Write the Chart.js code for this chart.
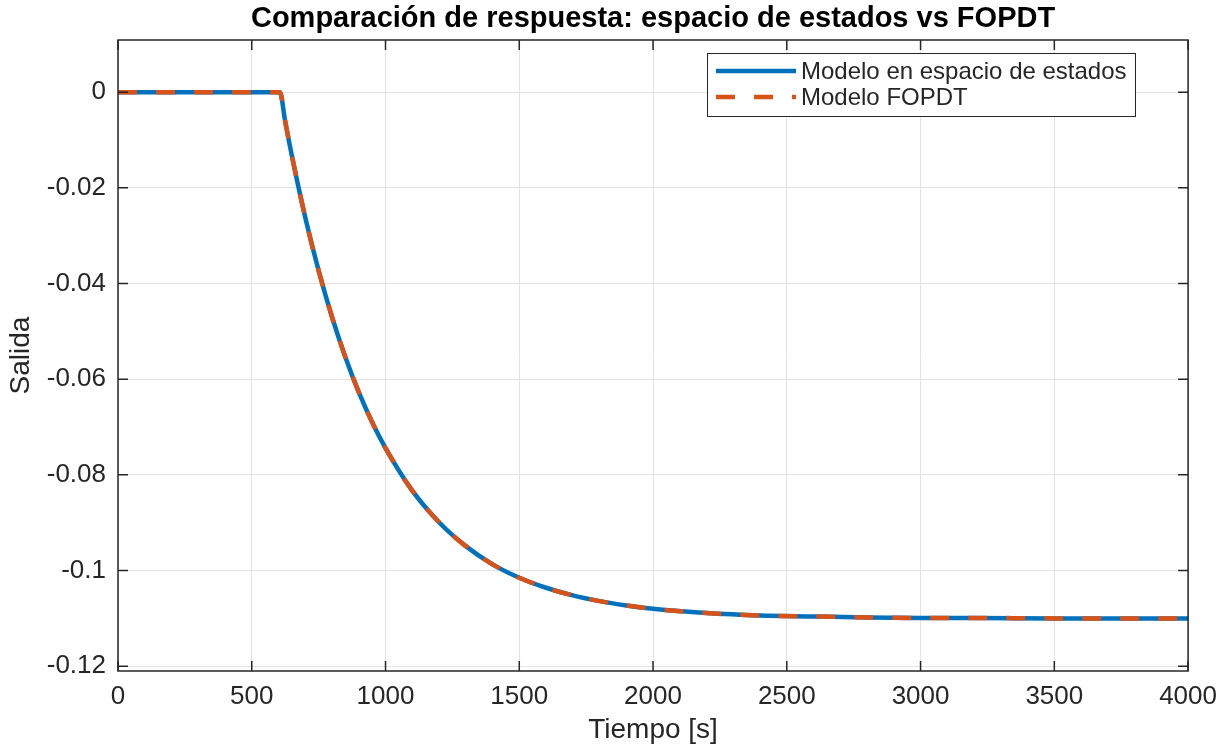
<!DOCTYPE html>
<html>
<head>
<meta charset="utf-8">
<script src="https://cdn.jsdelivr.net/npm/chart.js@4"></script>
<style>
  body { margin: 0; background: #fff; }
  #wrap { width: 1227px; height: 747px; }
</style>
</head>
<body>
<div id="wrap"><canvas id="respChart" width="1227" height="747"></canvas></div>
<script>
// tiempo [s] y salida
const tiempo = [0, 100, 200, 300, 400, 500, 605, 625, 650, 700, 750, 800, 850, 900, 950, 1000,
  1100, 1200, 1300, 1400, 1500, 1600, 1700, 1800, 1900, 2000, 2200, 2400, 2600, 2800, 3000,
  3200, 3500, 4000];
const salidaSS = [0, 0, 0, 0, 0, 0, 0, -0.0061, -0.0133, -0.0262, -0.0373, -0.0470, -0.0554,
  -0.0627, -0.0690, -0.0744, -0.0833, -0.0899, -0.0949, -0.0987, -0.1015, -0.1036, -0.1052,
  -0.1064, -0.1073, -0.1080, -0.1089, -0.1094, -0.1096, -0.1098, -0.1099, -0.1099, -0.1100, -0.1100];
const salidaFOPDT = [0, 0, 0, 0, 0, 0, 0, -0.0061, -0.0133, -0.0262, -0.0373, -0.0470, -0.0554,
  -0.0627, -0.0690, -0.0744, -0.0833, -0.0899, -0.0949, -0.0987, -0.1015, -0.1036, -0.1052,
  -0.1064, -0.1073, -0.1080, -0.1089, -0.1094, -0.1096, -0.1098, -0.1099, -0.1099, -0.1100, -0.1100];

const xTicks = [0, 500, 1000, 1500, 2000, 2500, 3000, 3500, 4000];
const yTicks = [0, -0.02, -0.04, -0.06, -0.08, -0.1, -0.12];
const yTickLabels = ['0', '-0.02', '-0.04', '-0.06', '-0.08', '-0.1', '-0.12'];

const titulo = 'Comparación de respuesta: espacio de estados vs FOPDT';
const FONT = "'Liberation Sans', Arial, sans-serif";
const AX = '#262626';

function pts(ys) {
  return tiempo.map((t, i) => ({ x: t, y: ys[i] }));
}

// titulo, leyenda y marcas interiores al estilo MATLAB
const matlabBits = {
  id: 'matlabBits',
  afterDraw(chart) {
    const ctx = chart.ctx;
    const a = chart.chartArea;
    const xs = chart.scales.x, ys = chart.scales.y;
    ctx.save();
    // caja de ejes
    ctx.strokeStyle = AX;
    ctx.lineWidth = 1.5;
    ctx.strokeRect(a.left, a.top, a.right - a.left, a.bottom - a.top);
    // marcas hacia dentro
    ctx.beginPath();
    xTicks.forEach(v => {
      const px = xs.getPixelForValue(v);
      ctx.moveTo(px, a.bottom); ctx.lineTo(px, a.bottom - 10);
      ctx.moveTo(px, a.top); ctx.lineTo(px, a.top + 10);
    });
    yTicks.forEach(v => {
      const py = ys.getPixelForValue(v);
      ctx.moveTo(a.left, py); ctx.lineTo(a.left + 10, py);
      ctx.moveTo(a.right, py); ctx.lineTo(a.right - 10, py);
    });
    ctx.stroke();

    // titulo
    ctx.fillStyle = '#000';
    ctx.font = 'bold 29px ' + FONT;
    ctx.textAlign = 'center';
    ctx.textBaseline = 'middle';
    ctx.fillText(titulo, (a.left + a.right) / 2, 19);

    // leyenda
    const lx = 707, ly = 53, lw = 428, lh = 63;
    ctx.fillStyle = '#fff';
    ctx.fillRect(lx, ly, lw, lh);
    ctx.strokeStyle = AX;
    ctx.lineWidth = 1;
    ctx.strokeRect(lx + 0.5, ly + 0.5, lw, lh);
    ctx.font = '24px ' + FONT;
    ctx.textAlign = 'left';
    const items = [chart.data.datasets[0], chart.data.datasets[1]];
    items.forEach((ds, i) => {
      const cy = ly + 18 + i * 26;
      ctx.strokeStyle = ds.borderColor;
      ctx.lineWidth = 4.5;
      ctx.setLineDash(ds.borderDash || []);
      ctx.beginPath();
      ctx.moveTo(716, cy); ctx.lineTo(796, cy);
      ctx.stroke();
      ctx.setLineDash([]);
      ctx.fillStyle = AX;
      ctx.fillText(ds.label, 801, cy + 1);
    });
    ctx.restore();
  }
};

new Chart(document.getElementById('respChart').getContext('2d'), {
  type: 'line',
  data: {
    datasets: [{
      label: 'Modelo en espacio de estados',
      data: pts(salidaSS),
      borderColor: '#0072BD',
      borderWidth: 4.5,
      pointRadius: 0,
      cubicInterpolationMode: 'monotone',
      order: 2
    }, {
      label: 'Modelo FOPDT',
      data: pts(salidaFOPDT),
      borderColor: '#D95319',
      borderWidth: 4.5,
      borderDash: [19, 19],
      pointRadius: 0,
      cubicInterpolationMode: 'monotone',
      order: 1
    }]
  },
  plugins: [matlabBits],
  options: {
    responsive: false,
    animation: false,
    layout: { padding: { top: 40, right: 38, left: 0, bottom: 0 } },
    scales: {
      x: {
        type: 'linear',
        min: 0,
        max: 4000,
        afterBuildTicks: s => { s.ticks = xTicks.map(v => ({ value: v })); },
        afterFit: s => { s.height = 76; },
        grid: { color: '#e3e3e3', lineWidth: 1, tickLength: 0, drawTicks: false },
        border: { display: false },
        ticks: {
          color: AX,
          font: { family: FONT, size: 26 },
          padding: 10,
          maxRotation: 0,
          callback: v => String(v)
        },
        title: { display: true, text: 'Tiempo [s]', color: AX, font: { family: FONT, size: 28 }, padding: { top: 0, bottom: 0 } }
      },
      y: {
        type: 'linear',
        min: -0.121,
        max: 0.0109,
        afterBuildTicks: s => { s.ticks = yTicks.map(v => ({ value: v })); },
        afterFit: s => { s.width = 118; },
        grid: { color: '#e3e3e3', lineWidth: 1, tickLength: 0, drawTicks: false },
        border: { display: false },
        ticks: {
          color: AX,
          font: { family: FONT, size: 26 },
          padding: 12,
          callback: v => {
            const i = yTicks.findIndex(t => Math.abs(t - v) < 1e-9);
            return i >= 0 ? yTickLabels[i] : '';
          }
        },
        title: { display: true, text: 'Salida', color: AX, font: { family: FONT, size: 28 }, padding: { top: 4, bottom: 0 } }
      }
    },
    plugins: {
      legend: { display: false },
      title: { display: false },
      tooltip: { enabled: false }
    }
  }
});
</script>
</body>
</html>
